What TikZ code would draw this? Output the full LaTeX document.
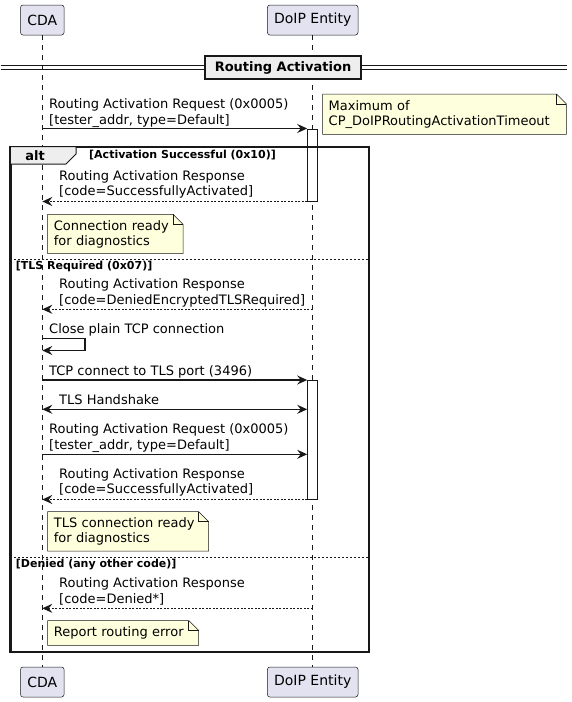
\documentclass[tikz,border=0pt]{standalone}
\usepackage{fontspec}
\setmainfont{DejaVu Sans}
\usetikzlibrary{arrows.meta,calc,backgrounds}
\definecolor{partfill}{HTML}{E2E2F0}
\definecolor{ln}{HTML}{181818}
\definecolor{notefill}{HTML}{FEFFDD}
\definecolor{tabfill}{HTML}{EEEEEE}
\newcommand\mlines[1]{\begin{tabular}[b]{@{}l@{}}#1\end{tabular}}
\newcommand\noteoutline[1]{%
  \begin{pgfonlayer}{background}
  \draw[notestyle] (#1.north west) -- ($(#1.north east)+(-10,0)$) -- ($(#1.north east)+(0,10)$) -- (#1.south east) -- (#1.south west) -- cycle;
  \draw[ln, line width=0.5pt] ($(#1.north east)+(-10,0)$) -- ($(#1.north east)+(-10,10)$) -- ($(#1.north east)+(0,10)$);
  \end{pgfonlayer}}
\begin{document}
\begin{tikzpicture}[x=1pt,y=-1pt,
  part/.style={draw=ln, line width=0.5pt, fill=partfill, rounded corners=2.5pt, minimum height=30pt, inner sep=0pt, font=\fontsize{14}{16}\selectfont},
  life/.style={draw=ln, line width=0.5pt, dash pattern=on 5pt off 5pt},
  actbar/.style={draw=ln, line width=1pt, fill=white, minimum width=10pt, inner sep=0pt, anchor=north},
  msg/.style={draw=ln, line width=1.4pt, -{Stealth[length=10pt,width=9pt,inset=3.5pt]}},
  twoway/.style={draw=ln, line width=1.4pt, {Stealth[length=10pt,width=9pt,inset=3.5pt]}-{Stealth[length=10pt,width=9pt,inset=3.5pt]}},
  reply/.style={msg, dash pattern=on 2pt off 1.5pt},
  mtext/.style={anchor=base west, inner sep=0pt, font=\fontsize{13}{15.5}\selectfont},
  notebox/.style={anchor=north west, inner xsep=6pt, inner ysep=0pt, align=left, font=\fontsize{13}{15}\selectfont},
  notestyle/.style={draw=ln, line width=0.5pt, fill=notefill},
  guard/.style={anchor=west, inner sep=0pt, font=\fontsize{11}{13}\selectfont\bfseries},
  sepline/.style={draw=ln, line width=0.8pt, dash pattern=on 2pt off 2pt},
]
\useasboundingbox (0,0) rectangle (572,702);

% participants
\node[part, minimum width=43.5pt] (cda) at (42.3,20) {CDA};
\node[part, minimum width=90.6pt] (doip) at (312.7,20) {DoIP Entity};
\node[part, minimum width=43.5pt] (cdab) at (42.3,682) {CDA};
\node[part, minimum width=90.6pt] (doipb) at (312.7,682) {DoIP Entity};
\draw[life] (cda.south) -- (cdab.north);
\draw[life] (doip.south) -- (doipb.north);

% divider
\coordinate (dl1) at (0.5,65);
\coordinate (dr1) at (567,65);
\coordinate (dl2) at (0.5,69);
\coordinate (dr2) at (567,69);
\draw[ln, line width=1pt] (dl1) -- (dr1) (dl2) -- (dr2);
\node[draw=ln, line width=2pt, fill=tabfill, minimum width=156pt, minimum height=23.5pt, inner sep=0pt, font=\fontsize{13}{15}\selectfont\bfseries] (div) at (283,67.7) {Routing Activation};

% message 1
\node[actbar, minimum height=72pt] (act1) at (312.7,128.5) {};
\draw[msg] (cda.south |- act1.north west) -- (act1.north west);
\node[mtext] (t1) at (49,124) {\mlines{Routing Activation Request (0x0005)\\{}[tester\_addr, type=Default]}};
\node[notebox, minimum width=243.5pt, minimum height=40pt, text width=231.5pt] (n1) at (322.5,94) {Maximum of\\CP\_DoIPRoutingActivationTimeout};
\noteoutline{n1}

% alt frame
\node[draw=ln, line width=1.5pt, anchor=north west, minimum width=358pt, minimum height=504pt, inner sep=0pt] (alt) at (10,146.5) {};
\coordinate (tab1) at (76,146.5);
\coordinate (tab2) at (76,154);
\coordinate (tab3) at (66,164);
\coordinate (tab4) at (10,164);
\draw[ln, line width=1pt, fill=tabfill] (alt.north west) -- (tab1) -- (tab2) -- (tab3) -- (tab4) -- cycle;
\draw[ln, line width=1.5pt] (alt.north west) rectangle (alt.south east);
\node[inner sep=0pt, font=\fontsize{13}{15}\selectfont\bfseries] (altlbl) at (35,155.5) {alt};
\node[guard] (g1) at (89,155.5) {[Activation Successful (0x10)]};

% response 1
\draw[reply] (act1.south west) -- (cda.south |- act1.south west);
\node[mtext] (t2) at (59,195.5) {\mlines{Routing Activation Response\\{}[code=SuccessfullyActivated]}};
\node[notebox, minimum width=135pt, minimum height=39pt, text width=123pt] (n2) at (47.7,214.3) {Connection ready\\for diagnostics};
\noteoutline{n2}

% separator 1
\coordinate (s1) at (0,259);
\draw[sepline] (alt.west |- s1) -- (alt.east |- s1);
\node[guard] (g2) at (15.7,266.5) {[TLS Required (0x07)]};

% response 2
\coordinate (y2) at (0,309.3);
\draw[reply] (doip |- y2) -- (cda |- y2);
\node[mtext] (t3) at (59,304.3) {\mlines{Routing Activation Response\\{}[code=DeniedEncryptedTLSRequired]}};

% self message
\node[mtext] (t4) at (49,333.3) {Close plain TCP connection};
\coordinate (l1) at (85,338.3);
\coordinate (l2) at (85,350.5);
\draw[msg] (cda |- l1) -- (l1) -- (l2) -- (cda |- l2);

% TCP connect
\node[actbar, minimum height=118.5pt] (act2) at (312.7,380) {};
\draw[msg] (cda |- act2.north west) -- (act2.north west);
\node[mtext] (t5) at (49,375) {TCP connect to TLS port (3496)};

% TLS handshake
\coordinate (y6) at (0,409.3);
\draw[twoway] (cda |- y6) -- (act2.west |- y6);
\node[mtext] (t6) at (59,404.3) {TLS Handshake};

% request 2
\coordinate (y7) at (0,454.3);
\draw[msg] (cda |- y7) -- (act2.west |- y7);
\node[mtext] (t7) at (49,449.3) {\mlines{Routing Activation Request (0x0005)\\{}[tester\_addr, type=Default]}};

% response 3
\draw[reply] (act2.south west) -- (cda |- act2.south west);
\node[mtext] (t8) at (59,493.5) {\mlines{Routing Activation Response\\{}[code=SuccessfullyActivated]}};
\node[notebox, minimum width=160.6pt, minimum height=39pt, text width=148.6pt] (n3) at (47.7,511.7) {TLS connection ready\\for diagnostics};
\noteoutline{n3}

% separator 2
\coordinate (s2) at (0,557.3);
\draw[sepline] (alt.west |- s2) -- (alt.east |- s2);
\node[guard] (g3) at (15.7,565) {[Denied (any other code)]};

% response 4
\coordinate (y9) at (0,608.3);
\draw[reply] (doip |- y9) -- (cda |- y9);
\node[mtext] (t9) at (59,603.3) {\mlines{Routing Activation Response\\{}[code=Denied*]}};
\node[notebox, minimum width=150.6pt, minimum height=24.5pt, text width=138.6pt] (n4) at (47.7,620.5) {Report routing error};
\noteoutline{n4}
\end{tikzpicture}
\end{document}
